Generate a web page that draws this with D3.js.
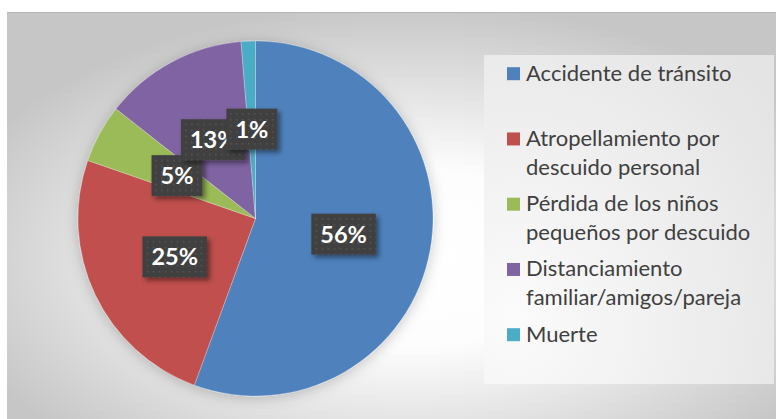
<!DOCTYPE html>
<html>
<head>
<meta charset="utf-8">
<script src="https://cdn.jsdelivr.net/npm/d3@7"></script>
<style>
  html, body { margin: 0; padding: 0; background: #fff; }
  svg { display: block; }
</style>
</head>
<body>
<script>
// causas (porcentajes)
const categories = [
    "Accidente de tránsito",
    "Atropellamiento por descuido personal",
    "Pérdida de los niños pequeños por descuido",
    "Distanciamiento familiar/amigos/pareja",
    "Muerte"
];
const values = [55.6, 24.7, 5.3, 13.1, 1.3];
const colors = ["#4F81BD", "#C0504D", "#9BBB59", "#8064A2", "#4BACC6"];

const width = 776;
const height = 419;
const cx = 255.5, cy = 218.5, radius = 177.5;

let svg = d3.select("body")
    .append("svg")
    .attr("width", width)
    .attr("height", height);

let defs = svg.append("defs");

let bg = defs.append("radialGradient")
    .attr("id", "bg")
    .attr("cx", 0.52).attr("cy", 0.6).attr("r", 0.62);
bg.append("stop").attr("offset", 0).attr("stop-color", "#ffffff");
bg.append("stop").attr("offset", 0.35).attr("stop-color", "#fdfdfd");
bg.append("stop").attr("offset", 1).attr("stop-color", "#c6c6c6");

let lg = defs.append("radialGradient")
    .attr("id", "legbg")
    .attr("cx", 0.1).attr("cy", 0.8).attr("r", 1.1);
lg.append("stop").attr("offset", 0).attr("stop-color", "#fbfbfb");
lg.append("stop").attr("offset", 1).attr("stop-color", "#e4e4e4");

let glow = defs.append("filter").attr("id", "glow")
    .attr("x", -0.2).attr("y", -0.2).attr("width", 1.4).attr("height", 1.4);
glow.append("feDropShadow")
    .attr("dx", 0).attr("dy", 2).attr("stdDeviation", 7)
    .attr("flood-color", "#000").attr("flood-opacity", 0.22);

let boxShadow = defs.append("filter").attr("id", "boxshadow")
    .attr("x", -0.3).attr("y", -0.3).attr("width", 1.6).attr("height", 1.6);
boxShadow.append("feDropShadow")
    .attr("dx", 3).attr("dy", 3).attr("stdDeviation", 2.5)
    .attr("flood-color", "#000").attr("flood-opacity", 0.45);

let dots = defs.append("pattern")
    .attr("id", "dots")
    .attr("patternUnits", "userSpaceOnUse")
    .attr("width", 6).attr("height", 6);
dots.append("rect").attr("width", 6).attr("height", 6).attr("fill", "#404040");
dots.append("rect").attr("x", 2).attr("y", 2).attr("width", 1.5).attr("height", 1.5)
    .attr("fill", "#575757");

// chart area
svg.append("rect")
    .attr("x", 7).attr("y", 12)
    .attr("width", width - 7 + 2).attr("height", height - 12 + 2)
    .attr("fill", "url(#bg)");
svg.append("line")
    .attr("x1", 7).attr("x2", width).attr("y1", 12.5).attr("y2", 12.5)
    .attr("stroke", "#b4b4b4").attr("stroke-width", 1);

// pie
let pie = d3.pie().sort(null).value(d => d);
let arcs = pie(values);
let arc = d3.arc().innerRadius(0).outerRadius(radius);
let labelArc = d3.arc().innerRadius(0).outerRadius(radius * 1.008);
let total = d3.sum(values);
let pct = d3.format(".0%");

let g = svg.append("g").attr("transform", `translate(${cx},${cy})`);

g.append("g")
    .attr("filter", "url(#glow)")
    .selectAll("path")
    .data(arcs)
    .enter().append("path")
    .attr("d", arc)
    .attr("fill", (d, i) => colors[i])
    .attr("stroke", "rgba(255,255,255,0.35)")
    .attr("stroke-width", 0.75);

// data labels
let labels = g.selectAll("g.lbl")
    .data(arcs)
    .enter().append("g")
    .attr("class", "lbl")
    .attr("transform", d => `translate(${labelArc.centroid(d)})`);

labels.each(function (d) {
    let lbl = d3.select(this);
    let rect = lbl.append("rect")
        .attr("fill", "url(#dots)")
        .attr("filter", "url(#boxshadow)");
    let txt = lbl.append("text")
        .attr("text-anchor", "middle")
        .attr("dy", "0.36em")
        .attr("fill", "#fff")
        .style("font-family", "Lato, 'Open Sans', sans-serif")
        .style("font-weight", "bold")
        .style("font-size", "23.5px")
        .text(pct(d.data / total));
    let w = txt.node().getComputedTextLength() + 18;
    let h = 41;
    rect.attr("x", -w / 2).attr("y", -h / 2).attr("width", w).attr("height", h);
});

// legend
const legX = 484, legY = 55, legW = 290, legH = 329;
svg.append("rect")
    .attr("x", legX).attr("y", legY)
    .attr("width", legW).attr("height", legH)
    .attr("fill", "url(#legbg)");

let legendY = d3.scalePoint()
    .domain(d3.range(categories.length))
    .range([80.7, 341.7]);

const lineH = 28.7;
const wrapW = 240;

let items = svg.selectAll("g.leg")
    .data(categories)
    .enter().append("g")
    .attr("class", "leg")
    .attr("transform", (d, i) => `translate(0,${legendY(i)})`);

items.append("rect")
    .attr("x", 507).attr("y", -13.5)
    .attr("width", 13).attr("height", 13)
    .attr("fill", (d, i) => colors[i]);

items.each(function (d) {
    let t = d3.select(this).append("text")
        .attr("x", 526)
        .attr("fill", "#404040")
        .style("font-family", "Lato, 'Open Sans', sans-serif")
        .style("font-size", "22px");
    let words = d.split(" ");
    let line = [];
    let lineNo = 0;
    let tspan = t.append("tspan").attr("x", 526).attr("y", 0);
    words.forEach(w => {
        line.push(w);
        tspan.text(line.join(" "));
        if (tspan.node().getComputedTextLength() > wrapW && line.length > 1) {
            line.pop();
            tspan.text(line.join(" "));
            line = [w];
            lineNo++;
            tspan = t.append("tspan").attr("x", 526).attr("y", lineNo * lineH).text(w);
        }
    });
});
</script>
</body>
</html>
